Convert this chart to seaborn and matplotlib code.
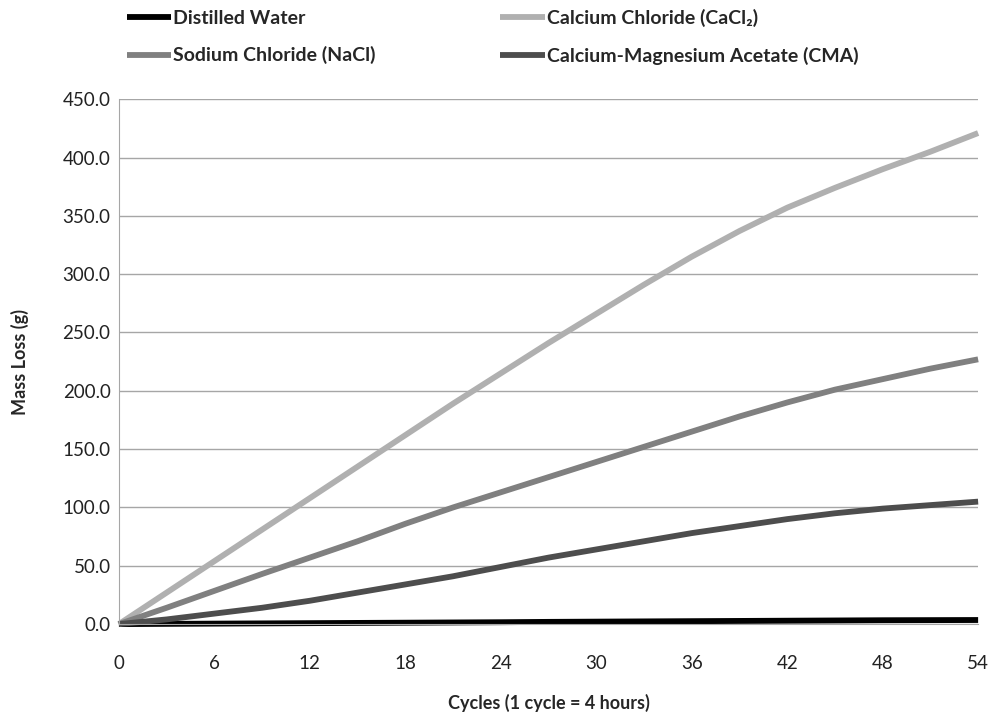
import matplotlib
matplotlib.use("Agg")
import matplotlib.pyplot as plt
import seaborn as sns
import pandas as pd
from matplotlib.ticker import FormatStrFormatter

cycles = [0, 3, 6, 9, 12, 15, 18, 21, 24, 27, 30, 33, 36, 39, 42, 45, 48, 51, 54]
distilled_water = [0, 0.2, 0.4, 0.6, 0.8, 1.0, 1.2, 1.4, 1.6, 1.9, 2.1, 2.3, 2.5, 2.7, 2.9, 3.1, 3.3, 3.4, 3.5]
calcium_chloride = [0, 27, 54, 81, 108, 135, 162, 189, 215, 241, 266, 291, 315, 337, 357, 374, 390, 405, 421]
sodium_chloride = [0, 14, 28.5, 43, 57, 71, 86, 100, 113, 126, 139, 152, 165, 178, 190, 201, 210, 219, 227]
cma = [0, 4, 9, 14, 20, 27, 34, 41, 49, 57, 64, 71, 78, 84, 90, 95, 99, 102, 105]

series_names = ["Distilled Water", "Calcium Chloride (CaCl\u2082)",
                "Sodium Chloride (NaCl)", "Calcium-Magnesium Acetate (CMA)"]
series_values = [distilled_water, calcium_chloride, sodium_chloride, cma]
colors = ["#000000", "#b0b0b0", "#808080", "#4d4d4d"]

rows = []
for name, vals in zip(series_names, series_values):
    for c, v in zip(cycles, vals):
        rows.append({"cycle": c, "loss": v, "series": name})
df = pd.DataFrame(rows)

sns.set_style("white")
plt.rcParams["font.family"] = ["Lato", "DejaVu Sans"]

fig = plt.figure(figsize=(9.91, 7.19), dpi=100)
ax = fig.add_axes([0.120, 0.132, 0.867, 0.730])

sns.lineplot(data=df, x="cycle", y="loss", hue="series", hue_order=series_names,
             palette=dict(zip(series_names, colors)), linewidth=4.2, ax=ax,
             legend=False, clip_on=False, solid_capstyle="butt")

ax.set_xlim(0, 54)
ax.set_ylim(0, 450)
ax.set_xticks(range(0, 55, 6))
ax.set_yticks(range(0, 451, 50))
ax.yaxis.set_major_formatter(FormatStrFormatter("%.1f"))
ax.grid(axis="y", color="#a6a6a6", linewidth=1)
ax.grid(axis="x", visible=False)
for s in ["top", "right"]:
    ax.spines[s].set_visible(False)
ax.spines["left"].set_color("#a6a6a6")
ax.spines["bottom"].set_color("#a6a6a6")
ax.tick_params(axis="both", labelsize=13.5, colors="#222222", length=0)
ax.tick_params(axis="y", pad=6)
ax.tick_params(axis="x", pad=22)

ax.set_xlabel("Cycles (1 cycle = 4 hours)", fontsize=13, fontweight="bold", labelpad=16)
ax.set_ylabel("Mass Loss (g)", fontsize=13, fontweight="bold", labelpad=24)

lines = ax.get_lines()
handles = [lines[0], lines[2], lines[1], lines[3]]
labels = [series_names[0], series_names[2], series_names[1], series_names[3]]
fig.legend(handles, labels, loc="upper left", bbox_to_anchor=(0.110, 1.012),
           ncol=2, frameon=False, handlelength=2.3, handletextpad=0.1,
           columnspacing=6.4, labelspacing=1.0,
           prop={"size": 14, "weight": "bold"})

fig.savefig("out.png", dpi=100)
